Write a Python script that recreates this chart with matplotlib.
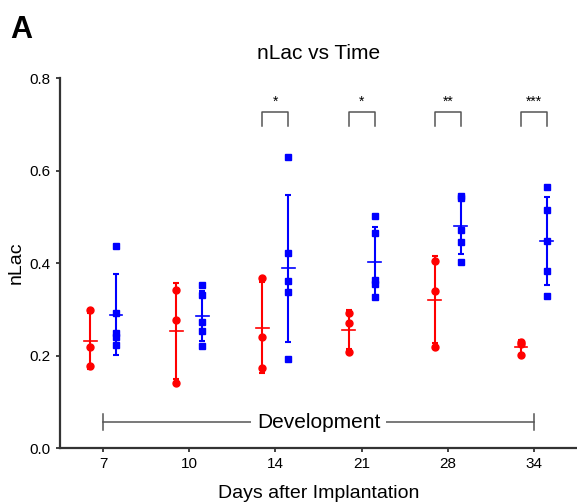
import numpy as np
import matplotlib
matplotlib.use("Agg")
import matplotlib.pyplot as plt

plt.rcParams['font.family'] = ['Liberation Sans', 'DejaVu Sans']

# Days after implantation (categories)
days = ['7', '10', '14', '21', '28', '34']

# nLac values per day
red_vals = [
    [0.298, 0.218, 0.178],
    [0.342, 0.277, 0.140],
    [0.367, 0.241, 0.174],
    [0.291, 0.270, 0.208],
    [0.404, 0.340, 0.218],
    [0.230, 0.226, 0.201],
]
blue_vals = [
    [0.437, 0.293, 0.249, 0.241, 0.223],
    [0.352, 0.331, 0.272, 0.253, 0.221],
    [0.630, 0.422, 0.362, 0.337, 0.192],
    [0.502, 0.466, 0.363, 0.354, 0.327],
    [0.545, 0.540, 0.471, 0.445, 0.403],
    [0.564, 0.515, 0.447, 0.383, 0.329],
]
stars = ['', '', '*', '*', '**', '***']

fig = plt.figure(figsize=(5.77, 5.04), dpi=100)
ax = fig.add_axes([0.104, 0.111, 0.896, 0.734])

x = np.arange(len(days))
off = 0.15
half = 0.075

def draw_group(xpos, vals, color, marker, ms):
    v = np.array(vals)
    m = v.mean()
    sd = v.std(ddof=1)
    ax.errorbar(xpos, m, yerr=sd, color=color, lw=1.5, capsize=2.3, capthick=1.5, zorder=2)
    ax.plot([xpos - half, xpos + half], [m, m], color=color, lw=1.2, zorder=2)
    ax.plot(np.full(len(v), xpos), v, linestyle='none', marker=marker, color=color,
            markersize=ms, zorder=3)

for i in range(len(days)):
    draw_group(x[i] - off, red_vals[i], 'red', 'o', 5)
    draw_group(x[i] + off, blue_vals[i], 'blue', 's', 5)
    if stars[i]:
        x0, x1 = x[i] - off, x[i] + off
        ax.plot([x0, x0, x1, x1], [0.696, 0.727, 0.727, 0.696], color='#555555', lw=1.1)
        ax.text(x[i], 0.733, stars[i], ha='center', va='bottom', fontsize=10)

# Development bracket
ax.plot([x[0], x[-1]], [0.056, 0.056], color='#555555', lw=1.1, zorder=1)
ax.plot([x[0], x[0]], [0.040, 0.073], color='#555555', lw=1.1)
ax.plot([x[-1], x[-1]], [0.040, 0.073], color='#555555', lw=1.1)
ax.text((x[0] + x[-1]) / 2, 0.056, 'Development', ha='center', va='center', fontsize=15,
        bbox=dict(facecolor='white', edgecolor='none', pad=4), zorder=2)

ax.set_xlim(-0.5, len(days) - 0.5)
ax.set_ylim(0, 0.8)
ax.set_xticks(x)
ax.set_xticklabels(days)
ax.set_yticks([0.0, 0.2, 0.4, 0.6, 0.8])
ax.set_yticklabels(['0.0', '0.2', '0.4', '0.6', '0.8'])
ax.tick_params(labelsize=11, length=3, width=1.3, color='#333333')
for s in ['top', 'right']:
    ax.spines[s].set_visible(False)
for s in ['left', 'bottom']:
    ax.spines[s].set_color('#333333')
    ax.spines[s].set_linewidth(1.6)

ax.set_title('nLac vs Time', fontsize=15, pad=14)
ax.set_xlabel('Days after Implantation', fontsize=14, labelpad=10)
ax.set_ylabel('nLac', fontsize=14, labelpad=4)
fig.text(0.017, 0.925, 'A', fontsize=22, fontweight='bold')

fig.savefig('out.png', dpi=100)
